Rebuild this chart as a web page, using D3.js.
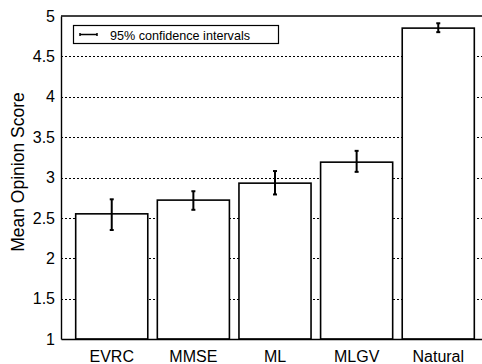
<!DOCTYPE html>
<html>
<head>
<meta charset="utf-8">
<script src="https://cdn.jsdelivr.net/npm/d3@7"></script>
<style>
  body { margin: 0; background: #fff; }
  svg { display: block; font-family: "Liberation Sans", Arial, sans-serif; }
</style>
</head>
<body>
<svg id="chart" width="482" height="364"></svg>
<script>
// data
let categories = ["EVRC", "MMSE", "ML", "MLGV", "Natural"];
let means = [2.55, 2.72, 2.93, 3.19, 4.85];
let ciLow = [2.35, 2.60, 2.79, 3.07, 4.80];
let ciHigh = [2.73, 2.83, 3.08, 3.33, 4.91];
let yTicks = [1, 1.5, 2, 2.5, 3, 3.5, 4, 4.5, 5];

let width = 482;
let height = 364;
let margin = {top: 16, right: -7, bottom: 25, left: 61};

let data = categories.map((c, i) => ({name: c, value: means[i], lo: ciLow[i], hi: ciHigh[i]}));

let svg = d3.select("#chart");

let x = d3.scaleBand()
  .domain(categories)
  .range([margin.left, width - margin.right])
  .paddingInner(0.117)
  .paddingOuter(0.18);

let y = d3.scaleLinear()
  .domain([1, 5])
  .range([height - margin.bottom, margin.top]);

// dotted grid
svg.append("g")
  .selectAll("line")
  .data(yTicks.slice(1, -1))
  .join("line")
  .attr("x1", margin.left)
  .attr("x2", width - margin.right)
  .attr("y1", d => Math.round(y(d)) + 0.5)
  .attr("y2", d => Math.round(y(d)) + 0.5)
  .attr("stroke", "#000")
  .attr("stroke-width", 1)
  .attr("stroke-dasharray", "2,2");

// bars
svg.append("g")
  .selectAll("rect")
  .data(data)
  .join("rect")
  .attr("x", d => x(d.name))
  .attr("y", d => y(d.value))
  .attr("width", x.bandwidth())
  .attr("height", d => y(1) - y(d.value))
  .attr("fill", "#fff")
  .attr("stroke", "#000")
  .attr("stroke-width", 1.6);

// error bars
let eb = svg.append("g")
  .attr("stroke", "#000")
  .attr("stroke-width", 2);

eb.selectAll("line.v")
  .data(data)
  .join("line")
  .attr("class", "v")
  .attr("x1", d => x(d.name) + x.bandwidth() / 2)
  .attr("x2", d => x(d.name) + x.bandwidth() / 2)
  .attr("y1", d => y(d.lo))
  .attr("y2", d => y(d.hi));

eb.selectAll("line.cap")
  .data(data.flatMap(d => [{name: d.name, v: d.lo}, {name: d.name, v: d.hi}]))
  .join("line")
  .attr("class", "cap")
  .attr("x1", d => x(d.name) + x.bandwidth() / 2 - 2)
  .attr("x2", d => x(d.name) + x.bandwidth() / 2 + 2)
  .attr("y1", d => y(d.v))
  .attr("y2", d => y(d.v));

// axes
let yAxis = g => g
  .attr("transform", `translate(${margin.left},0)`)
  .call(d3.axisLeft(y).tickValues(yTicks).tickFormat(d3.format("~g")).tickSize(0).tickPadding(6))
  .call(g => g.select(".domain").attr("stroke-width", 1.4))
  .call(g => g.selectAll("text").attr("font-size", 16).attr("fill", "#000")
    .attr("font-family", "Liberation Sans, Arial, sans-serif"));

let xAxis = g => g
  .attr("transform", `translate(0,${height - margin.bottom})`)
  .call(d3.axisBottom(x).tickSize(0).tickPadding(12))
  .call(g => g.select(".domain").attr("stroke-width", 1.4))
  .call(g => g.selectAll("text").attr("font-size", 16).attr("fill", "#000")
    .attr("font-family", "Liberation Sans, Arial, sans-serif"));

svg.append("g").call(yAxis);
svg.append("g").call(xAxis);

// top frame line
svg.append("line")
  .attr("x1", margin.left)
  .attr("x2", width - margin.right)
  .attr("y1", margin.top)
  .attr("y2", margin.top)
  .attr("stroke", "#000")
  .attr("stroke-width", 1.4);

// y label
svg.append("text")
  .attr("transform", `translate(24,172) rotate(-90)`)
  .attr("text-anchor", "middle")
  .attr("font-size", 17.5)
  .text("Mean Opinion Score");

// legend
let legend = svg.append("g");
legend.append("rect")
  .attr("x", 73.5)
  .attr("y", 25.5)
  .attr("width", 205)
  .attr("height", 18)
  .attr("fill", "#fff")
  .attr("stroke", "#000")
  .attr("stroke-width", 1.2);
legend.append("line")
  .attr("x1", 80).attr("x2", 97)
  .attr("y1", 34.5).attr("y2", 34.5)
  .attr("stroke", "#000").attr("stroke-width", 1.5);
legend.selectAll("line.c")
  .data([80, 97])
  .join("line")
  .attr("class", "c")
  .attr("x1", d => d).attr("x2", d => d)
  .attr("y1", 33).attr("y2", 36)
  .attr("stroke", "#000").attr("stroke-width", 1.5);
legend.append("text")
  .attr("x", 110)
  .attr("y", 39.5)
  .attr("font-size", 12.6)
  .text("95% confidence intervals");
</script>
</body>
</html>
